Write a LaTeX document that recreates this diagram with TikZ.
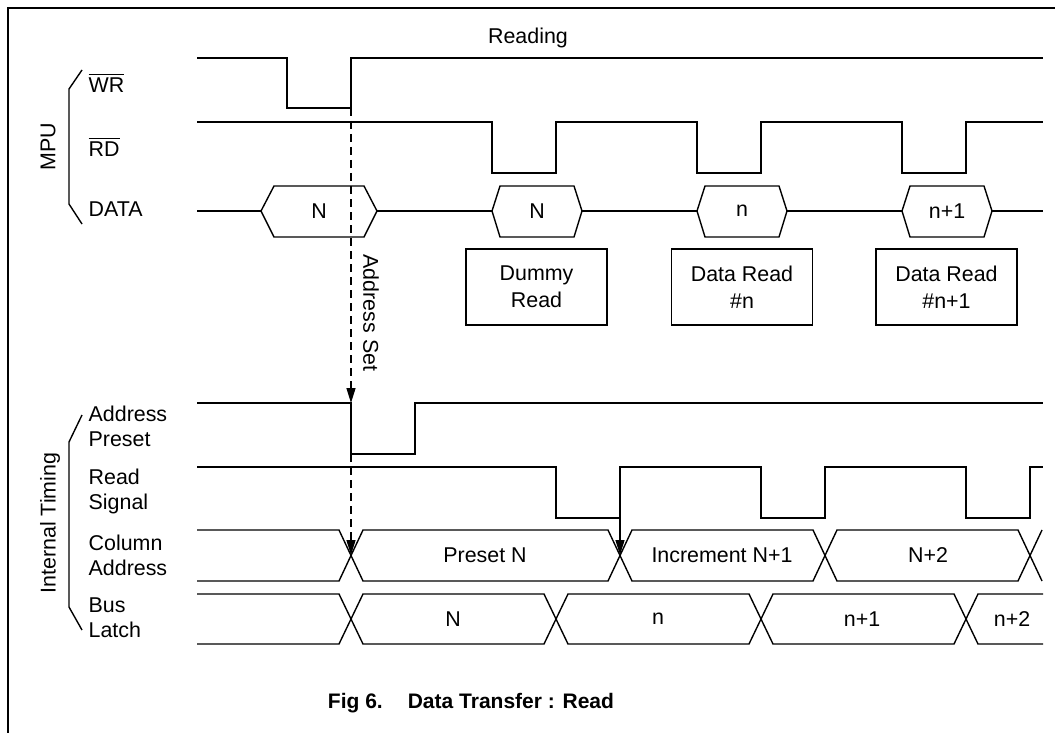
\documentclass[tikz,border=0pt]{standalone}
\usepackage{fontspec}
\setmainfont{Liberation Sans}
\usetikzlibrary{arrows.meta}

\begin{document}
\begin{tikzpicture}[x=0.5pt,y=-0.5pt,line width=0.7pt,
  font=\fontsize{10.7}{12.5}\selectfont,
  lbl/.style={anchor=west,align=left,inner sep=0pt},
  grp/.style={rotate=90,inner sep=0pt},
  box/.style={draw,align=center,minimum width=70.5pt,minimum height=38pt,
    inner sep=0pt,font=\fontsize{10.7}{13.5}\selectfont},
  tip/.style={-{Triangle[length=7.5pt,width=4.5pt]}},
  addr/.style={dash pattern=on 4pt off 2.5pt}]
  \useasboundingbox (0,0) rectangle (1055,733);
  \draw[line width=1.1pt] (8,733) -- (8,8) -- (1055,8);

  % signal names
  \node[grp] (mpu) at (48,147) {MPU};
  \node[grp] (itime) at (50,523) {Internal Timing};
  \draw (82,70) -- (69,89) -- (69,204) -- (82,224);
  \draw (82,415) -- (69,442) -- (69,607) -- (82,630);
  \node[lbl] (l_wr) at (88,83) {$\overline{\mbox{WR}}$};
  \node[lbl] (l_rd) at (88,147) {$\overline{\mbox{RD}}$};
  \node[lbl] (l_data) at (88,209) {DATA};
  \node[lbl] (l_ap) at (88,426) {Address\\Preset};
  \node[lbl] (l_rs) at (88,491) {Read\\Signal};
  \node[lbl] (l_ca) at (88,555) {Column\\Address};
  \node[lbl] (l_bl) at (88,618) {Bus\\Latch};
  \node (reading) at (528,38) {Reading};

  % MPU side
  \draw (197,58) -| (287,108) -| (351,58) -- (1043,58);
  \draw (197,122) -| (492,173) -| (556,122) -| (697,173) -| (761,122)
    -| (902,173) -| (966,122) -- (1043,122);
  \draw (197,211) -- (261,211) (377,211) -- (492,211) (582,211) -- (697,211)
    (787,211) -- (902,211) (992,211) -- (1043,211);
  \foreach \l/\r/\s/\t [count=\i] in {261/377/13/N,492/582/8/N,697/787/8/n,902/992/8/n+1}{
    \draw (\l,211) -- (\l+\s,186) -- (\r-\s,186) -- (\r,211) -- (\r-\s,237)
      -- (\l+\s,237) -- cycle;
    \node (d_\i) at ({(\l+\r)/2},211) {\t};
  }
  \node[box] (dummy) at (536.5,287) {Dummy\\Read};
  \node[box] (rd_n) at (742,287) {Data Read\\\#n};
  \node[box] (rd_n1) at (946.5,287) {Data Read\\\#n+1};

  % internal side
  \draw (197,403) -| (351,454) -| (415,403) -- (1043,403);
  \draw (197,467) -| (556,518) -| (620,467) -| (761,518) -| (825,467)
    -| (966,518) -| (1030,467) -- (1043,467);
  \draw (197,530) -- (339,530) -- (363,581) -- (608,581) -- (632,530)
    -- (813,530) -- (837,581) -- (1018,581) -- (1042,530);
  \draw (197,581) -- (339,581) -- (363,530) -- (608,530) -- (632,581)
    -- (813,581) -- (837,530) -- (1018,530) -- (1042,581);
  \draw (197,594) -- (339,594) -- (363,644) -- (544,644) -- (568,594)
    -- (749,594) -- (773,644) -- (954,644) -- (978,594) -- (1043,594);
  \draw (197,644) -- (339,644) -- (363,594) -- (544,594) -- (568,644)
    -- (749,644) -- (773,594) -- (954,594) -- (978,644) -- (1043,644);
  \foreach \x/\t [count=\i] in {485/Preset N,722/Increment N+1,928/N+2}
    \node (ca_\i) at (\x,555) {\t};
  \foreach \x/\t [count=\i] in {453/N,658/n,862/n+1,1012/n+2}
    \node (bl_\i) at (\x,619) {\t};

  % address set
  \coordinate (wr_up) at (351,108);
  \coordinate (ap_hi) at (351,403);
  \coordinate (ap_lo) at (351,454);
  \coordinate (cx_1) at (351,555);
  \coordinate (rs_up) at (620,518);
  \coordinate (cx_2) at (620,555);
  \draw[addr,tip] (wr_up) -- (ap_hi);
  \draw[addr,tip] (ap_lo) -- (cx_1);
  \draw[tip] (rs_up) -- (cx_2);
  \node[rotate=-90] (aset) at (371,313) {Address Set};

  \node[font=\fontsize{10.5}{12}\selectfont\bfseries] (title) at (471,703)
    {Fig 6.\hspace{12.5pt}Data Transfer : Read};
\end{tikzpicture}
\end{document}
